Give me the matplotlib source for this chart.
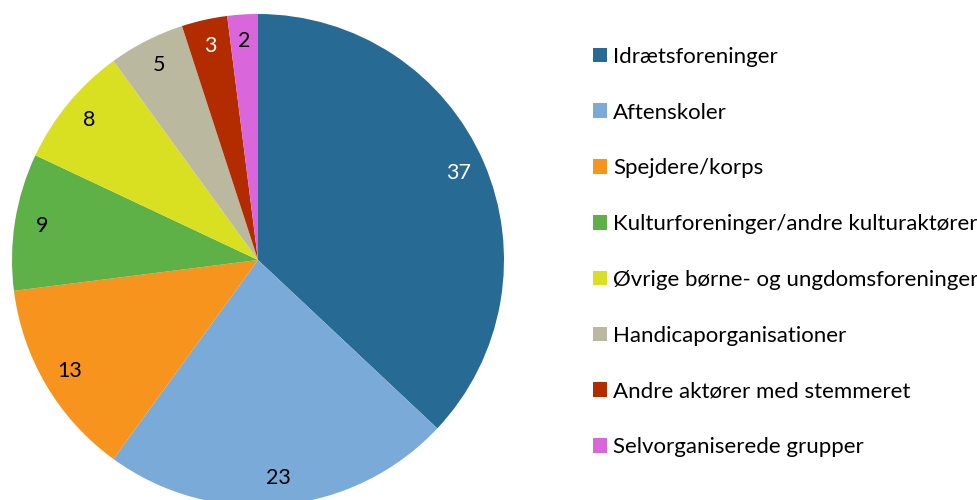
import matplotlib
matplotlib.use('Agg')
import matplotlib.pyplot as plt
from matplotlib.patches import Patch

plt.rcParams['font.family'] = ['Lato', 'DejaVu Sans']

categories = [
    'Idrætsforeninger',
    'Aftenskoler',
    'Spejdere/korps',
    'Kulturforeninger/andre kulturaktører',
    'Øvrige børne- og ungdomsforeninger',
    'Handicaporganisationer',
    'Andre aktører med stemmeret',
    'Selvorganiserede grupper',
]
values = [37, 23, 13, 9, 8, 5, 3, 2]
colors = ['#276A93', '#7AABD8', '#F7941D', '#5DB146',
          '#D9E021', '#BAB9A0', '#B22C00', '#D966DA']
label_colors = ['white', 'black', 'black', 'black',
                'black', 'black', 'white', 'black']

fig = plt.figure(figsize=(9.78, 5.0), dpi=100)

# pie axes: centre (258, 260) px, radius 246 px
cx, cy, r = 258, 260, 246
ax = fig.add_axes([(cx - r) / 978, (500 - cy - r) / 500, 2 * r / 978, 2 * r / 500])
wedges, texts, autotexts = ax.pie(
    values, colors=colors, startangle=90, counterclock=False,
    radius=1, autopct=lambda p: f'{p:.0f}', pctdistance=0.89,
    textprops={'fontsize': 15.5},
    wedgeprops={'linewidth': 0})
for t, c in zip(autotexts, label_colors):
    t.set_color(c)
ax.set_xlim(-1, 1)
ax.set_ylim(-1, 1)
ax.set_aspect('auto')
ax.axis('off')

handles = [Patch(facecolor=c, edgecolor='none') for c in colors]
fig.legend(handles, categories, loc='center left',
           bbox_to_anchor=(593 / 978, 1 - 252 / 500),
           frameon=False, fontsize=16, borderpad=0, borderaxespad=0,
           handlelength=0.63, handleheight=0.63, handletextpad=0.28,
           labelspacing=1.61)

fig.savefig('out.png', dpi=100)
plt.close(fig)
